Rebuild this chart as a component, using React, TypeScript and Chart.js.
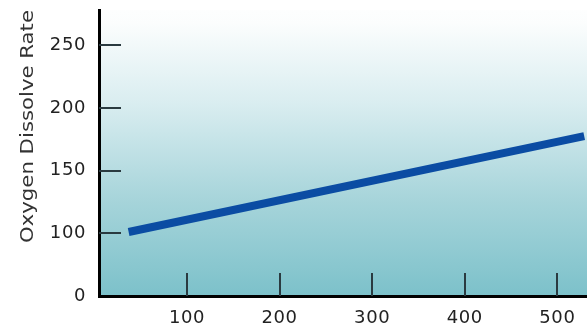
import React, { useEffect, useRef } from "react";
import { Chart, registerables } from "chart.js";

Chart.register(...registerables);

const xValues = [37, 529];
const yValues = [101, 177.5];
const xTicks = [100, 200, 300, 400, 500];
const yTicks = [50, 100, 150, 200, 250];
const yTickLabels = ["0", "100", "150", "200", "250"];
const yTitle = "Oxygen Dissolve Rate";

const FONT = "DejaVu Sans, Verdana, sans-serif";

const bgPlugin = {
  id: "bgGradient",
  beforeDraw(chart: any) {
    const { ctx, chartArea } = chart;
    const { left, right, top, bottom } = chartArea;
    const g = ctx.createLinearGradient(0, 0, 0, bottom);
    g.addColorStop(0, "#ffffff");
    g.addColorStop(0.08, "#fbfdfd");
    g.addColorStop(0.35, "#d9edf0");
    g.addColorStop(0.68, "#a6d4da");
    g.addColorStop(1, "#7cc1ca");
    ctx.save();
    ctx.fillStyle = g;
    ctx.fillRect(left, top, right - left, bottom - top);
    ctx.restore();
    (ctx as any).letterSpacing = "0.6px";
  },
  afterDatasetsDraw(chart: any) {
    const { ctx, chartArea, scales } = chart;
    ctx.save();
    ctx.strokeStyle = "#2a3a40";
    ctx.lineWidth = 2;
    ctx.beginPath();
    for (const v of yTicks) {
      if (v === yTicks[0]) continue;
      const y = Math.round(scales.y.getPixelForValue(v));
      ctx.moveTo(chartArea.left, y);
      ctx.lineTo(chartArea.left + 22, y);
    }
    for (const v of xTicks) {
      const x = Math.round(scales.x.getPixelForValue(v));
      ctx.moveTo(x, chartArea.bottom);
      ctx.lineTo(x, chartArea.bottom - 23);
    }
    ctx.stroke();
    ctx.restore();
  },
  afterDraw(chart: any) {
    const { ctx, chartArea } = chart;
    ctx.save();
    ctx.font = `17px ${FONT}`;
    (ctx as any).letterSpacing = "0px";
    const w0 = ctx.measureText(yTitle).width;
    const target = 233;
    ctx.fillStyle = "#333";
    ctx.translate(33, chartArea.top + target);
    ctx.rotate(-Math.PI / 2);
    ctx.scale(target / w0, 1);
    ctx.textAlign = "left";
    ctx.textBaseline = "alphabetic";
    ctx.fillText(yTitle, 0, 0);
    ctx.restore();
  },
};

export default function App() {
  const ref = useRef<HTMLCanvasElement>(null);
  useEffect(() => {
    document.body.style.margin = "0";
    const chart = new Chart(ref.current!, {
      type: "line",
      data: {
        datasets: [
          {
            data: xValues.map((x, i) => ({ x, y: yValues[i] })),
            borderColor: "#0b4ca3",
            borderWidth: 8,
            borderCapStyle: "butt",
            pointRadius: 0,
            fill: false,
          },
        ],
      },
      options: {
        animation: false,
        responsive: false,
        maintainAspectRatio: false,
        layout: { padding: { top: 10, right: 0, left: 0, bottom: 0 } },
        plugins: { legend: { display: false }, tooltip: { enabled: false } },
        scales: {
          x: {
            type: "linear",
            min: 5,
            max: 532,
            afterFit(scale: any) {
              scale.height = 33;
              scale.paddingLeft = 0;
              scale.paddingRight = 0;
            },
            afterBuildTicks(scale: any) {
              scale.ticks = xTicks.map((v) => ({ value: v }));
            },
            grid: { display: false, drawTicks: false, tickLength: 0 },
            border: { display: true, color: "#000", width: 3 },
            ticks: {
              padding: 12,
              color: "#222",
              font: { family: FONT, size: 18 },
              maxRotation: 0,
            },
          },
          y: {
            type: "linear",
            min: 50,
            max: 278,
            afterFit(scale: any) {
              scale.width = 99;
              scale.paddingTop = 0;
              scale.paddingBottom = 0;
            },
            afterBuildTicks(scale: any) {
              scale.ticks = yTicks.map((v) => ({ value: v }));
            },
            grid: { display: false, drawTicks: false, tickLength: 0 },
            border: { display: true, color: "#000", width: 3 },
            ticks: {
              padding: 13,
              color: "#222",
              font: { family: FONT, size: 18 },
              callback: (v: any) => yTickLabels[yTicks.indexOf(Number(v))] ?? "",
            },
            title: { display: false, text: yTitle },
          },
        },
      },
      plugins: [bgPlugin],
    } as any);
    return () => chart.destroy();
  }, []);
  return (
    <div style={{ width: 587, height: 329, background: "#fff" }}>
      <canvas ref={ref} width={587} height={329} style={{ display: "block" }} />
    </div>
  );
}
